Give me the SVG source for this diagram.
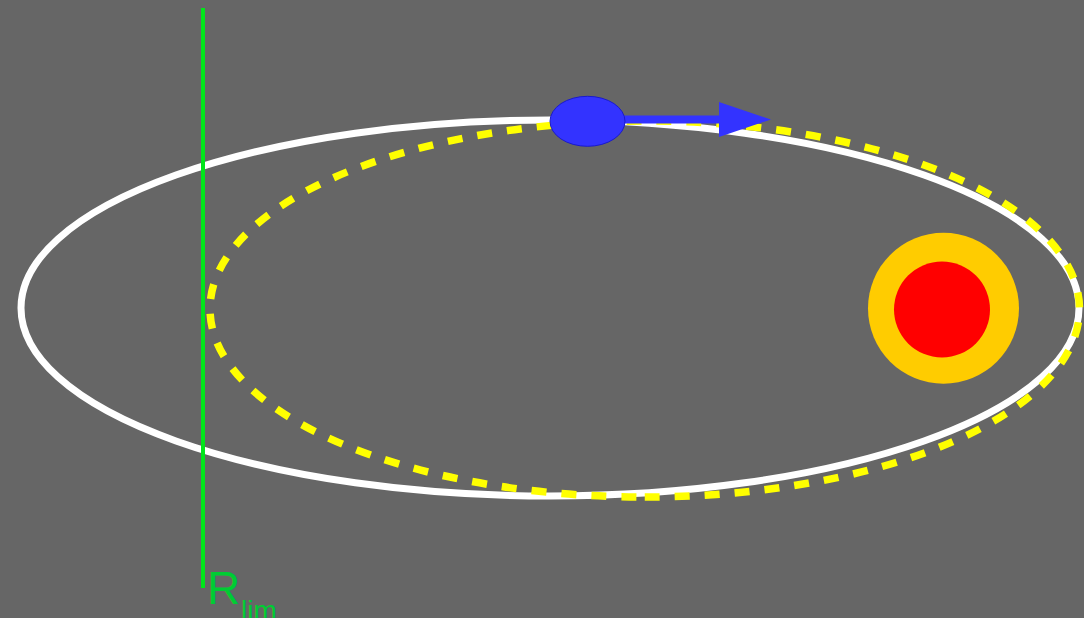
<svg xmlns="http://www.w3.org/2000/svg" width="1084" height="618" viewBox="0 0 1084 618">
  <style>
    .orbit { fill: none; stroke: #ffffff; stroke-width: 7; }
    .precess { fill: none; stroke: #ffff00; stroke-width: 7.5; stroke-dasharray: 15 15; }
    .label { font-family: "Liberation Sans", Arial, sans-serif; fill: #00cc33; }
  </style>
  <defs>
    <marker id="arrowhead" markerUnits="userSpaceOnUse" markerWidth="52" markerHeight="36" refX="0" refY="17.5" orient="auto">
      <path d="M0,0 L52,17.5 L0,35 Z" fill="#3333ff"/>
    </marker>
  </defs>
  <rect width="1084" height="618" fill="#666666"/>
  <g id="orbit">
    <ellipse class="orbit" cx="550" cy="308" rx="529" ry="188"/>
  </g>
  <g id="precessed-orbit">
    <path class="precess" d="M 644.75 497 A 434.75 188 0 0 0 644.75 121 A 434.75 188 0 0 0 644.75 497"/>
  </g>
  <g id="star">
    <circle cx="943.5" cy="308.3" r="75.5" fill="#ffcc00"/>
    <circle cx="942" cy="309.5" r="48" fill="#ff0000"/>
  </g>
  <g id="r-lim">
    <line x1="203" y1="8" x2="203" y2="588" stroke="#00e61a" stroke-width="4"/>
    <text class="label" x="207" y="603.5" font-size="46">R<tspan font-size="28" x="241" y="620">lim</tspan></text>
  </g>
  <g id="connectors">
    <line x1="610" y1="119.5" x2="719" y2="119.5" stroke="#3333ff" stroke-width="8" marker-end="url(#arrowhead)"/>
  </g>
  <g id="planet">
    <ellipse cx="587.5" cy="121.3" rx="37.5" ry="25" fill="#3333ff" stroke="#1a1acc" stroke-width="1"/>
  </g>
</svg>
